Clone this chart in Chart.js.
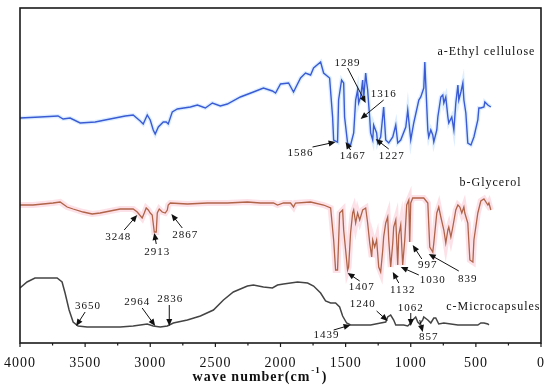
<!DOCTYPE html>
<html><head><meta charset="utf-8">
<script src="https://cdn.jsdelivr.net/npm/chart.js@4.4.1/dist/chart.umd.min.js"></script>
<style>html,body{margin:0;padding:0;background:#fff;}</style>
</head><body>
<canvas id="c" width="550" height="389"></canvas>
<script>
// ---- data (wavenumber in cm^-1, relative transmittance with vertical offsets) ----
const seriesNames = ['a-Ethyl cellulose', 'b-Glycerol', 'c-Microcapsules'];
const xTickValues = [4000, 3500, 3000, 2500, 2000, 1500, 1000, 500, 0];
const xMinorValues = [3750, 3250, 2750, 2250, 1750, 1250, 750, 250];

const waveA = [4000,3846,3708,3669,3615,3538,3423,3308,3192,3131,3077,3054,3023,3000,2977,2962,2938,2900,2877,2862,2831,2792,2692,2638,2577,2523,2462,2408,2308,2208,2131,2062,2038,2000,1938,1900,1846,1808,1769,1746,1692,1669,1623,1600,1592,1562,1554,1531,1515,1508,1485,1462,1438,1423,1408,1400,1385,1369,1362,1346,1338,1331,1315,1308,1292,1285,1262,1254,1231,1208,1192,1169,1138,1115,1100,1077,1038,1023,1000,977,938,923,900,892,885,869,862,846,831,823,800,792,769,754,746,731,715,708,685,669,654,638,631,615,600,592,577,562,538,515,485,477,462,438,431,408,385];
const transA = [225,226,227,224,225,220,221,224,227,228,222,219,228,223,213,209,216,221,221,219,231,234,236,238,235,240,237,239,246,251,255,252,250,259,260,251,265,270,268,275,281,270,265,226,203,201,243,263,260,226,200,198,210,243,253,240,246,263,243,270,260,253,225,210,203,218,210,200,206,236,203,200,206,218,200,203,216,233,203,220,243,246,255,281,260,213,206,213,208,201,213,226,246,248,240,246,226,220,226,213,240,258,243,251,260,243,230,200,198,206,223,235,235,236,241,238,236];

const waveB = [4000,3900,3746,3692,3638,3592,3515,3446,3385,3308,3231,3131,3100,3062,3046,3031,3015,3000,2985,2969,2954,2946,2931,2908,2885,2869,2862,2846,2715,2562,2408,2254,2154,2054,2023,1977,1923,1900,1885,1769,1669,1615,1592,1577,1562,1546,1523,1515,1485,1477,1462,1446,1438,1423,1408,1392,1369,1346,1331,1315,1300,1292,1277,1262,1246,1231,1215,1208,1192,1177,1169,1154,1138,1131,1115,1100,1092,1077,1062,1046,1031,1015,1008,1000,985,900,869,854,831,823,800,785,769,746,731,715,708,692,677,654,638,623,608,592,585,562,546,523,515,485,462,438,408,400,385];
const transB = [138,138,140,141,136,134,131,129,130,132,134,134,131,125,130,135,133,130,128,111,111,130,134,131,130,133,138,140,139,140,140,141,140,140,138,140,140,136,140,141,138,135,103,73,73,130,133,113,73,76,110,130,133,120,130,123,133,135,120,100,86,103,96,103,76,71,93,106,120,126,103,76,100,116,123,78,108,118,78,103,138,143,101,140,145,145,140,96,91,100,130,136,126,113,100,113,116,106,116,133,138,136,130,136,130,120,83,81,103,130,142,144,138,140,133];

const waveC = [4000,3946,3885,3846,3715,3677,3654,3623,3592,3554,3485,3231,3131,3023,2977,2923,2869,2823,2715,2615,2515,2438,2362,2254,2208,2131,2062,2023,1977,1923,1869,1792,1746,1692,1654,1615,1577,1546,1523,1492,1462,1308,1231,1192,1177,1154,1131,1115,1054,1023,1000,985,962,946,931,908,900,869,846,823,808,785,746,638,538,485,462,438,408,400];
const transC = [55,61,65,65,65,61,50,33,21,17,16,16,17,19,17,16,17,20,23,27,33,43,51,57,58,56,55,58,59,60,61,60,57,50,42,40,40,36,27,20,18,18,20,21,26,28,23,18,18,17,20,23,26,21,19,23,26,23,20,25,25,19,20,18,18,18,20,20,19,18];

// peak annotations: label, text anchor (wave, value), arrow from -> to (wave, value)
const peakNotes = [
  {t:'1289', tx:1485, ty:280, fx:1485, fy:275, ax:1346, ay:240},
  {t:'1316', tx:1208, ty:249, fx:1208, fy:243, ax:1385, ay:224},
  {t:'1586', tx:1846, ty:190, fx:1754, fy:196, ax:1577, ay:201},
  {t:'1467', tx:1446, ty:187, fx:1462, fy:193, ax:1500, ay:201},
  {t:'1227', tx:1146, ty:187, fx:1169, fy:194, ax:1269, ay:204},
  {t:'3248', tx:3246, ty:106, fx:3200, fy:113, ax:3100, ay:128},
  {t:'2913', tx:2946, ty:91,  fx:2954, fy:99,  ax:2969, ay:110},
  {t:'2867', tx:2731, ty:108, fx:2754, fy:115, ax:2838, ay:129},
  {t:'1407', tx:1377, ty:56,  fx:1392, fy:62,  ax:1485, ay:70},
  {t:'1132', tx:1062, ty:53,  fx:1092, fy:60,  ax:1138, ay:71},
  {t:'1030', tx:831,  ty:63,  fx:938,  fy:68,  ax:1077, ay:76},
  {t:'997',  tx:869,  ty:78,  fx:915,  fy:84,  ax:985,  ay:98},
  {t:'839',  tx:562,  ty:64,  fx:631,  fy:72,  ax:862,  ay:89},
  {t:'3650', tx:3477, ty:37,  fx:3500, fy:31,  ax:3569, ay:17},
  {t:'2964', tx:3100, ty:41,  fx:3062, fy:35,  ax:2962, ay:17},
  {t:'2836', tx:2846, ty:44,  fx:2854, fy:38,  ax:2854, ay:17},
  {t:'1240', tx:1369, ty:39,  fx:1262, fy:32,  ax:1177, ay:22},
  {t:'1062', tx:1000, ty:35,  fx:1000, fy:30,  ax:1000, ay:17},
  {t:'1439', tx:1646, ty:8,   fx:1592, fy:13,  ax:1462, ay:18},
  {t:'857',  tx:862,  ty:6,   fx:931,  fy:23,  ax:908,  ay:11}
];
const seriesLabelPos = [ {x:43, y:291}, {x:150, y:160}, {x:4, y:36} ];

const toXY = (w, v) => w.map((x, i) => ({x: x, y: v[i]}));
const SERIF = '"Liberation Serif", "Times New Roman", serif';

const framePlugin = {
  id: 'frame',
  beforeUpdate(chart){ chart.ctx.letterSpacing = '1px'; },
  beforeDraw(chart){ chart.ctx.letterSpacing = '1px'; },
  afterDraw(chart){
    const ctx = chart.ctx, a = chart.chartArea, xs = chart.scales.x, ys = chart.scales.y;
    ctx.save();
    // frame
    ctx.strokeStyle = '#1a1a1a'; ctx.lineWidth = 1.6;
    ctx.strokeRect(a.left, a.top, a.right - a.left, a.bottom - a.top);
    // ticks
    ctx.lineWidth = 1.2;
    ctx.beginPath();
    xTickValues.forEach(v => { const p = xs.getPixelForValue(v); ctx.moveTo(p, a.bottom); ctx.lineTo(p, a.bottom + 4); });
    xMinorValues.forEach(v => { const p = xs.getPixelForValue(v); ctx.moveTo(p, a.bottom); ctx.lineTo(p, a.bottom + 2.5); });
    ctx.stroke();
    // series labels
    ctx.fillStyle = '#111';
    ctx.font = '12px ' + SERIF;
    ctx.letterSpacing = '1px';
    ctx.textAlign = 'right'; ctx.textBaseline = 'middle';
    seriesNames.forEach((n, i) => {
      ctx.fillText(n, xs.getPixelForValue(seriesLabelPos[i].x), ys.getPixelForValue(seriesLabelPos[i].y));
    });
    // peak labels & arrows
    ctx.font = '11px ' + SERIF;
    ctx.textAlign = 'center';
    peakNotes.forEach(n => {
      ctx.fillStyle = '#111';
      ctx.fillText(n.t, xs.getPixelForValue(n.tx), ys.getPixelForValue(n.ty));
      const x1 = xs.getPixelForValue(n.fx), y1 = ys.getPixelForValue(n.fy);
      const x2 = xs.getPixelForValue(n.ax), y2 = ys.getPixelForValue(n.ay);
      const ang = Math.atan2(y2 - y1, x2 - x1);
      const L = 7, W = 3;
      ctx.strokeStyle = '#111'; ctx.lineWidth = 1;
      ctx.beginPath(); ctx.moveTo(x1, y1);
      ctx.lineTo(x2 - Math.cos(ang) * L * 0.8, y2 - Math.sin(ang) * L * 0.8); ctx.stroke();
      ctx.beginPath();
      ctx.moveTo(x2, y2);
      ctx.lineTo(x2 - Math.cos(ang) * L - Math.sin(ang) * W, y2 - Math.sin(ang) * L + Math.cos(ang) * W);
      ctx.lineTo(x2 - Math.cos(ang) * L + Math.sin(ang) * W, y2 - Math.sin(ang) * L - Math.cos(ang) * W);
      ctx.closePath(); ctx.fill();
    });
    // axis title with superscript
    ctx.textAlign = 'left'; ctx.textBaseline = 'alphabetic';
    const main = 'wave number(cm', sup = '-1', close = ')';
    ctx.font = 'bold 9px ' + SERIF; const wSup = ctx.measureText(sup).width;
    ctx.font = 'bold 14px ' + SERIF;
    const wMain = ctx.measureText(main).width, wClose = ctx.measureText(close).width;
    const total = wMain + wSup + wClose + 2;
    let x = 260 - total / 2;
    const base = 381;
    ctx.fillText(main, x, base); x += wMain + 1;
    ctx.font = 'bold 9px ' + SERIF; ctx.fillText(sup, x, base - 8); x += wSup + 1;
    ctx.font = 'bold 14px ' + SERIF; ctx.fillText(close, x, base);
    ctx.restore();
  }
};

new Chart(document.getElementById('c'), {
  type: 'line',
  data: {
    datasets: [
      {label: seriesNames[0], data: toXY(waveA, transA), borderColor: '#3a5bd4', borderWidth: 1.4, order: 0},
      {label: seriesNames[0] + ' halo', data: toXY(waveA, transA), borderColor: 'rgba(140,200,255,0.3)', borderWidth: 4, order: 1},
      {label: seriesNames[1], data: toXY(waveB, transB), borderColor: '#b06448', borderWidth: 1.3, order: 0},
      {label: seriesNames[1] + ' halo', data: toXY(waveB, transB), borderColor: 'rgba(250,170,190,0.35)', borderWidth: 6, order: 1},
      {label: seriesNames[2], data: toXY(waveC, transC), borderColor: '#444444', borderWidth: 1.5, order: 0}
    ]
  },
  options: {
    responsive: false,
    animation: false,
    devicePixelRatio: 1,
    elements: {point: {radius: 0}, line: {tension: 0}},
    layout: {padding: {left: 20, right: 9, top: 8, bottom: 0}},
    plugins: {legend: {display: false}, tooltip: {enabled: false}},
    scales: {
      x: {
        type: 'linear', reverse: true, min: 0, max: 4000,
        afterBuildTicks: s => { s.ticks = xTickValues.map(v => ({value: v})); },
        afterFit: s => { s.height = 46; },
        grid: {display: false},
        border: {display: false},
        ticks: {
          color: '#111', padding: 4, maxRotation: 0, autoSkip: false,
          font: {family: SERIF, size: 14},
          callback: v => String(v)
        }
      },
      y: {type: 'linear', min: 0, max: 335, display: false}
    }
  },
  plugins: [framePlugin]
});
</script>
</body></html>
